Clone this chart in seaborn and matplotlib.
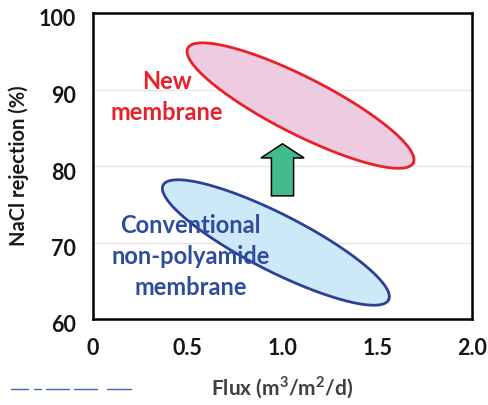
import numpy as np
import pandas as pd
import matplotlib
matplotlib.use("Agg")
import matplotlib.pyplot as plt
import matplotlib.transforms as mtransforms
from matplotlib.lines import Line2D
import seaborn as sns

# ---- data ----
x_ticks = [0, 0.5, 1.0, 1.5, 2.0]
x_tick_labels = ["0", "0.5", "1.0", "1.5", "2.0"]
y_ticks = [60, 70, 80, 90, 100]
y_tick_labels = ["60", "70", "80", "90", "100"]

groups = ["New\nmembrane", "Conventional\nnon-polyamide\nmembrane"]
# major-axis end points of each region (flux, rejection)
axis_start_flux = [0.50, 0.37]
axis_start_rej = [95.4, 77.5]
axis_end_flux = [1.69, 1.56]
axis_end_rej = [80.4, 62.5]
minor_ratio = [0.225, 0.225]
label_flux = [0.39, 0.515]
label_rej = [89.0, 68.2]

arrow_flux = 1.0
arrow_from = 76.1
arrow_to = 82.9

edge_colors = ["#E8202A", "#2E3F97"]
fill_colors = ["#EDCBE1", "#CDE8F9"]
text_colors = ["#E8202A", "#2E4C9E"]

# ---- figure ----
sns.set_theme(style="white")
plt.rcParams["font.family"] = ["Lato", "DejaVu Sans"]
plt.rcParams["mathtext.fontset"] = "custom"
plt.rcParams["mathtext.bf"] = "Lato:bold"
plt.rcParams["mathtext.rm"] = "Lato"

W, H = 489, 405
fig = plt.figure(figsize=(W / 100, H / 100), dpi=100)
ax = fig.add_axes([93 / W, 1 - 319 / H, 379 / W, 306 / H])
ax.set_xlim(0, 2.0)
ax.set_ylim(60, 100)

# gridlines
for yv in y_ticks[1:-1]:
    ax.axhline(yv, color="#E3E3E3", lw=0.9, zorder=0)

# scale factors to build ellipses in a display-like space
sx = 379 / 2.0
sy = 306 / 40.0
t = np.linspace(0, 2 * np.pi, 400)
for i, g in enumerate(groups):
    p1 = np.array([axis_start_flux[i] * sx, (axis_start_rej[i] - 60) * sy])
    p2 = np.array([axis_end_flux[i] * sx, (axis_end_rej[i] - 60) * sy])
    c = (p1 + p2) / 2
    u = (p2 - p1) / 2
    v = np.array([-u[1], u[0]]) * minor_ratio[i]
    pts = c[None, :] + np.outer(np.cos(t), u) + np.outer(np.sin(t), v)
    fx = pts[:, 0] / sx
    fy = pts[:, 1] / sy + 60
    ax.fill(fx, fy, facecolor=fill_colors[i], edgecolor="none", zorder=2)
    df = pd.DataFrame({"flux": fx, "rej": fy})
    sns.lineplot(data=df, x="flux", y="rej", sort=False, estimator=None,
                 color=edge_colors[i], lw=2.0, ax=ax, zorder=3)
    ax.text(label_flux[i], label_rej[i], g, color=text_colors[i], fontsize=17,
            fontweight="bold", ha="center", va="center", linespacing=1.42, zorder=4)

ax.arrow(arrow_flux, arrow_from, 0, arrow_to - arrow_from, width=0.117,
         head_width=0.228, head_length=1.85, length_includes_head=True,
         facecolor="#41BA8D", edgecolor="black", lw=1.1, zorder=4)

ax.set_xticks(x_ticks)
ax.set_xticklabels(x_tick_labels)
ax.set_yticks(y_ticks)
ax.set_yticklabels(y_tick_labels)
ax.tick_params(axis="x", direction="in", length=5, width=0.9, color="#BBBBBB",
               pad=14, labelsize=15.5, labelcolor="#151515")
ax.tick_params(axis="y", length=0, pad=12, labelsize=15.5, labelcolor="#151515")
for lab in ax.get_xticklabels() + ax.get_yticklabels():
    lab.set_fontweight("bold")
off = mtransforms.ScaledTranslation(0, -5 / 100, fig.dpi_scale_trans)
for lab in ax.get_yticklabels():
    lab.set_transform(lab.get_transform() + off)

for s in ax.spines.values():
    s.set_color("black")
    s.set_linewidth(1.8)

ax.set_xlabel("Flux (m$^{\\mathbf{3}}$/m$^{\\mathbf{2}}$/d)", fontsize=15,
              fontweight="bold", color="#3F3F3F", labelpad=11)
ax.set_ylabel("NaCl rejection (%)", fontsize=14.5, fontweight="bold",
              color="#1A1A1A", labelpad=7)

# small dashed artifact at bottom left
segs = [(11, 28), (34, 41), (46, 69), (74, 97), (107, 131)]
for a, b in segs:
    fig.add_artist(Line2D([a / W, b / W], [1 - 389 / H, 1 - 389 / H],
                          color="#3A6AAE", lw=1.0, transform=fig.transFigure))

fig.savefig("out.png", dpi=100)
